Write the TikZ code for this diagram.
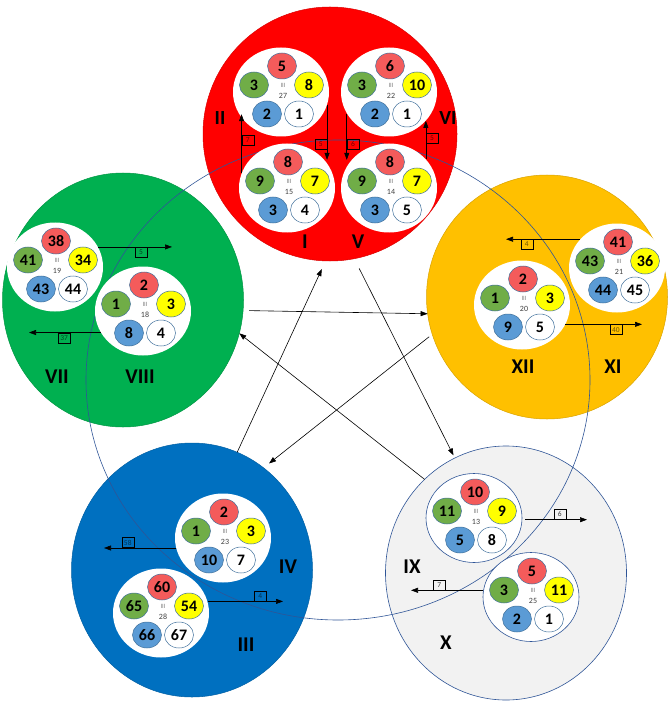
\documentclass[tikz,border=0pt]{standalone}
\usepackage{fontspec}
\setmainfont{Carlito}
\usetikzlibrary{shapes.geometric,arrows.meta}

\definecolor{rojo}{HTML}{FF0000}
\definecolor{verde}{HTML}{00B050}
\definecolor{ambar}{HTML}{FFC000}
\definecolor{azul}{HTML}{0070C0}
\definecolor{gris}{HTML}{F2F2F2}
\definecolor{azulosc}{HTML}{2F5597}
\definecolor{brojo}{HTML}{F45B5B}
\definecolor{bverde}{HTML}{70AD47}
\definecolor{bamarillo}{HTML}{FFFF00}
\definecolor{bazul}{HTML}{5B9BD5}
\definecolor{borde}{HTML}{41719C}

\tikzset{
  grande/.style={ellipse, minimum width=241pt, minimum height=254pt,
    inner sep=0pt, outer sep=0pt, fill=#1, draw=#1!85!black, line width=0.5pt},
  contorno/.style={},
  blanco/.style={ellipse, minimum width=96pt, minimum height=89pt,
    inner sep=0pt, fill=white, contorno},
  bola/.style={ellipse, minimum width=29pt, minimum height=26pt, inner sep=0pt,
    fill=#1, draw=borde, line width=0.5pt, font=\fontsize{16}{16}\selectfont\bfseries},
  marca/.style={font=\fontsize{6.5}{6.5}\selectfont, text=black!50, inner sep=0pt},
  cifra/.style={font=\fontsize{8}{8}\selectfont, text=black!75, inner sep=0pt},
  etiqueta/.style={font=\fontsize{21}{21}\selectfont\bfseries, inner sep=0pt},
  caja/.style={draw=black, line width=0.5pt, minimum width=12pt, minimum height=10pt,
    inner sep=1pt, font=\fontsize{7.5}{7.5}\selectfont},
  flecha/.style={-{Triangle[length=7pt,width=5pt]}, line width=0.6pt},
}

% grupo: nombre, x, y, rojo, verde, amarillo, azul, blanco, numero
\newcommand{\grupo}[9]{%
  \node[blanco] (gr#1) at (#2,#3) {};
  \begin{scope}[shift={(#2,#3)}]
    \node[bola=brojo]     (gr#1-r) at (1,-26) {#4};
    \node[bola=bverde]    (gr#1-v) at (-27,-7) {#5};
    \node[bola=bamarillo] (gr#1-a) at (28,-7) {#6};
    \node[bola=bazul]     (gr#1-z) at (-14,22) {#7};
    \node[bola=white]     (gr#1-b) at (18,22) {#8};
    \node[marca] (gr#1-m) at (2,-7) {III};
    \node[cifra] (gr#1-n) at (2,4) {#9};
  \end{scope}}

\begin{document}
\begin{tikzpicture}[x=1pt,y=-1pt]
    \useasboundingbox (0,0) rectangle (669,703);

    % Circulos grandes
    \node[grande=rojo, minimum width=254pt] (cRojo) at (330,134) {};
    \node[grande=verde] (cVerde) at (123,300) {};
    \node[grande=ambar, minimum height=244pt] (cAmbar) at (547,297) {};
    \node[grande=azul] (cAzul) at (192,570) {};
    \node[grande=gris, draw=azulosc, line width=0.6pt] (cGris) at (506,573) {};

    % Circulo fino
    \draw[azulosc, line width=0.6pt] (338,380) ellipse [x radius=252, y radius=240];

    % Grupos
    \grupo{II}{281}{92}{5}{3}{8}{2}{1}{27}
    \grupo{VI}{389}{92}{6}{3}{10}{2}{1}{22}
    \grupo{I}{287}{188}{8}{9}{7}{3}{4}{15}
    \grupo{V}{389}{188}{8}{9}{7}{3}{5}{14}
    \grupo{VII}{55}{267}{38}{41}{34}{43}{44}{19}
    \grupo{VIII}{143}{311}{2}{1}{3}{8}{4}{18}
    \grupo{XI}{617}{268}{41}{43}{36}{44}{45}{21}
    \grupo{XII}{522}{305}{2}{1}{3}{9}{5}{20}
    \grupo{IV}{223}{538}{2}{1}{3}{10}{7}{23}
    \grupo{III}{161}{613}{60}{65}{54}{66}{67}{28}
    \begin{scope}[contorno/.style={draw=azulosc, line width=0.6pt}]
        \grupo{IX}{474}{518}{10}{11}{9}{5}{8}{13}
        \grupo{X}{531}{597}{5}{3}{11}{2}{1}{25}
    \end{scope}

    % Etiquetas
    \node[etiqueta, font=\fontsize{20}{20}\selectfont\bfseries] (lII) at (220,118) {II};
    \node[etiqueta, font=\fontsize{20}{20}\selectfont\bfseries] (lVI) at (448,118) {VI};
    \node[etiqueta] (lI) at (305,242) {I};
    \node[etiqueta] (lV) at (358,242) {V};
    \node[etiqueta] (lVII) at (57,377) {VII};
    \node[etiqueta] (lVIII) at (140,377) {VIII};
    \node[etiqueta] (lXII) at (523,367) {XII};
    \node[etiqueta] (lXI) at (613,367) {XI};
    \node[etiqueta] (lIV) at (288,567) {IV};
    \node[etiqueta] (lIII) at (246,645) {III};
    \node[etiqueta] (lIX) at (412,567) {IX};
    \node[etiqueta] (lX) at (446,643) {X};

    % Flechas del circulo rojo
    \draw[flecha] (grI.162) -- (grI.162 |- grII.208)
        node[caja, right, pos=0.56, text=red!45!black] {7};
    \draw[flecha] (grII.-16) -- (grII.-16 |- grI.37)
        node[caja, left, pos=0.71, text=red!45!black] {5};
    \draw[flecha] (grVI.207) -- (grVI.207 |- grV.143)
        node[caja, right, pos=0.66, text=red!45!black] {6};
    \draw[flecha] (grV.38) -- (grV.38 |- grVI.-38)
        node[caja, right, pos=0.55, text=red!45!black] {5};

    % Extremos libres
    \coordinate (fVII) at (172,247);
    \coordinate (fVIII) at (29,333);
    \coordinate (fXI) at (506,238);
    \coordinate (fXII) at (642,325);
    \coordinate (fIV) at (104,549);
    \coordinate (fIII) at (283,601);
    \coordinate (fIX) at (587,519);
    \coordinate (fX) at (411,591);

    % Flechas horizontales
    \draw[flecha] (grVII.25) -- (grVII.25 -| fVII)
        node[caja, below, pos=0.58, text=verde!40!black] {5};
    \draw[flecha] (grVIII.207) -- (grVIII.207 -| fVIII)
        node[caja, below, pos=0.51, text=verde!40!black] {37};
    \draw[flecha] (grXI.142) -- (grXI.142 -| fXI)
        node[caja, below, pos=0.72, text=ambar!45!black] {4};
    \draw[flecha] (grXII.-24) -- (grXII.-24 -| fXII)
        node[caja, below, pos=0.66, text=ambar!45!black] {40};
    \draw[flecha] (grIV.192) -- (grIV.192 -| fIV)
        node[caja, above, pos=0.67, text=azul!45!black] {58};
    \draw[flecha] (grIII.14) -- (grIII.14 -| fIII)
        node[caja, above, pos=0.70, text=azul!45!black] {4};
    \draw[flecha, shorten <=3pt] (grIX.-2) -- (grIX.-2 -| fIX)
        node[caja, above, pos=0.58, text=black!75] {6};
    \draw[flecha] (grX.172) -- (grX.172 -| fX)
        node[caja, above, pos=0.61, text=black!75] {7};

    % Flechas entre circulos
    \draw[flecha, shorten <=6pt] (cVerde.-5) -- (cAmbar.188);
    \draw[flecha, shorten <=4pt, shorten >=7pt] (cAmbar.198) -- (cAzul.55);
    \draw[flecha, shorten >=9pt] (cAzul.69) -- (cRojo.-92);
    \draw[flecha, shorten <=11pt, shorten >=3pt] (cRojo.-79) -- (cGris.114);
    \draw[flecha] (cGris.131) -- (cVerde.-16);

\end{tikzpicture}
\end{document}
